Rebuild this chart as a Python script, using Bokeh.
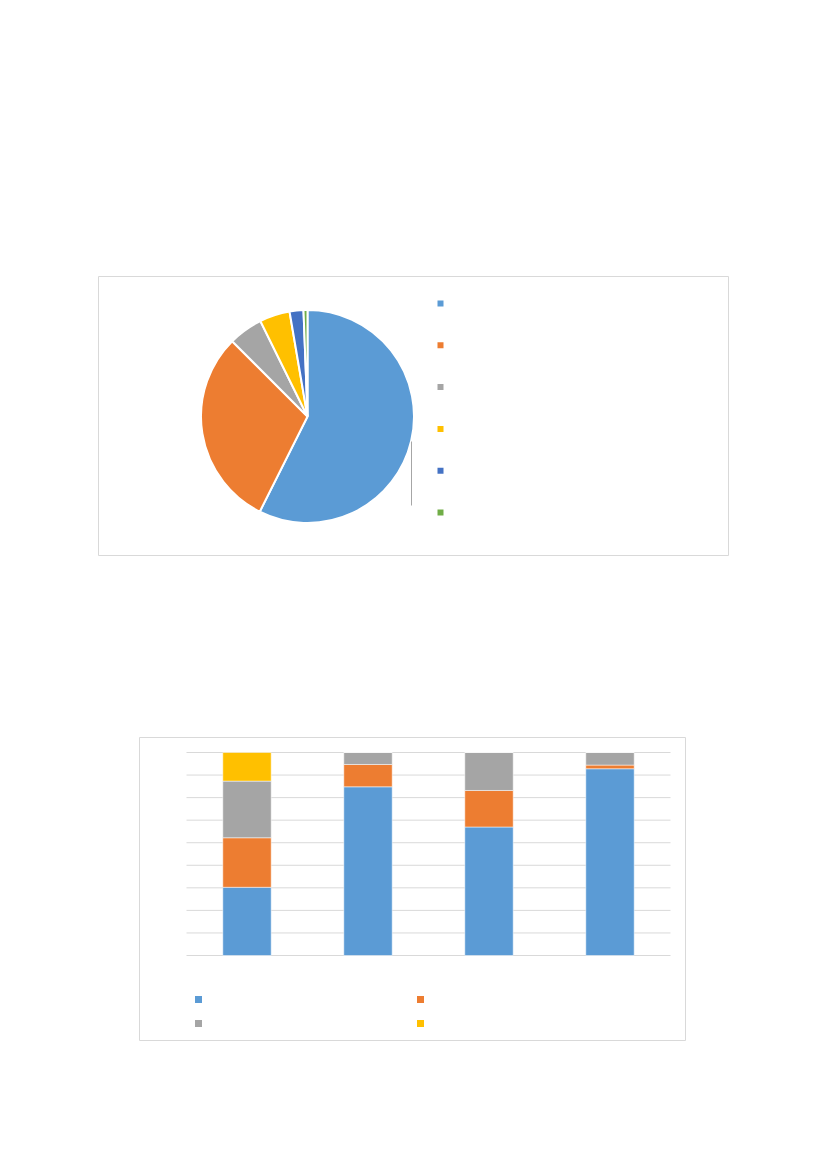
import math
from bokeh.plotting import figure
from bokeh.layouts import column, row
from bokeh.models import Spacer, Range1d
from bokeh.embed import file_html
from bokeh.resources import INLINE

# ---------------- data ----------------
pie_categories = ["C1", "C2", "C3", "C4", "C5", "C6"]
pie_values = [57.4, 30.1, 5.2, 4.6, 2.1, 0.6]
pie_colors = ["#5B9BD5", "#ED7D31", "#A5A5A5", "#FFC000", "#4472C4", "#70AD47"]

bar_categories = ["G1", "G2", "G3", "G4"]
bar_series = ["S1", "S2", "S3", "S4"]
s1_values = [33.6, 83.1, 63.3, 92.0]
s2_values = [24.4, 11.0, 18.0, 1.8]
s3_values = [27.9, 5.9, 18.7, 6.2]
s4_values = [14.1, 0.0, 0.0, 0.0]
bar_colors = ["#5B9BD5", "#ED7D31", "#A5A5A5", "#FFC000"]
grid_steps = 9  # gridlines divide 0..100 into 9 bands

BORDER = "#D9D9D9"

# ---------------- pie chart ----------------
PW, PH = 631, 280
pie = figure(width=PW, height=PH, output_backend="svg", toolbar_location=None,
             x_range=Range1d(0, PW), y_range=Range1d(0, PH), min_border=0)
pie.axis.visible = False
pie.grid.visible = False
pie.outline_line_color = BORDER
pie.outline_line_width = 1
pie.background_fill_color = "white"

total = sum(pie_values)
cx, cy, r = 209, 140, 106.5
start = math.pi / 2
starts, ends = [], []
for v in pie_values:
    a = 2 * math.pi * v / total
    starts.append(start)
    ends.append(start - a)
    start -= a
pie.wedge(x=[cx] * len(pie_values), y=[cy] * len(pie_values), radius=r,
          radius_units="screen", start_angle=starts, end_angle=ends,
          direction="clock", fill_color=pie_colors, line_color="white", line_width=2)

# leader line (data-label connector)
pie.segment(x0=[313], y0=[115], x1=[313], y1=[51], line_color="#A6A6A6", line_width=1)

# legend markers
lx = 342
ly = [253 - i * 41.8 for i in range(len(pie_categories))]
pie.scatter(x=[lx] * len(ly), y=ly, marker="square", size=6,
            fill_color=pie_colors, line_color=None)

# ---------------- stacked bar chart ----------------
BW, BH = 547, 304
left_pad, right_pad, top_pad, bottom_pad = 47, 16, 15, 86
plot_w = BW - left_pad - right_pad
plot_h = BH - top_pad - bottom_pad
ncat = len(bar_categories)
ux = plot_w / ncat          # pixels per category unit
uy = plot_h / 100.0         # pixels per percent
bar = figure(width=BW, height=BH, output_backend="svg", toolbar_location=None,
             x_range=Range1d(-left_pad / ux, ncat + right_pad / ux),
             y_range=Range1d(-bottom_pad / uy, 100 + top_pad / uy), min_border=0)
bar.axis.visible = False
bar.grid.visible = False
bar.outline_line_color = BORDER
bar.outline_line_width = 1

gy = [100.0 * k / grid_steps for k in range(grid_steps + 1)]
bar.segment(x0=[0] * len(gy), y0=gy, x1=[ncat] * len(gy), y1=gy,
            line_color="#D9D9D9", line_width=1)

xs = [i + 0.5 for i in range(ncat)]
data = dict(x=xs, S1=s1_values, S2=s2_values, S3=s3_values, S4=s4_values)
bar.vbar_stack(bar_series, x="x", width=0.4, source=data, color=bar_colors,
               line_color="white", line_width=0.5)

# legend markers (2 x 2)
leg_x = [(198 - 139 - left_pad) / ux, (420 - 139 - left_pad) / ux]
leg_y = [100 - (999 - 737 - top_pad) / uy, 100 - (1023 - 737 - top_pad) / uy]
mx = [leg_x[0], leg_x[1], leg_x[0], leg_x[1]]
my = [leg_y[0], leg_y[0], leg_y[1], leg_y[1]]
bar.scatter(x=mx, y=my, marker="square", size=7, fill_color=bar_colors, line_color=None)

layout = column(
    Spacer(height=276),
    row(Spacer(width=98), pie),
    Spacer(height=181),
    row(Spacer(width=139), bar),
)

open("out.html", "w").write(file_html(layout, INLINE))
